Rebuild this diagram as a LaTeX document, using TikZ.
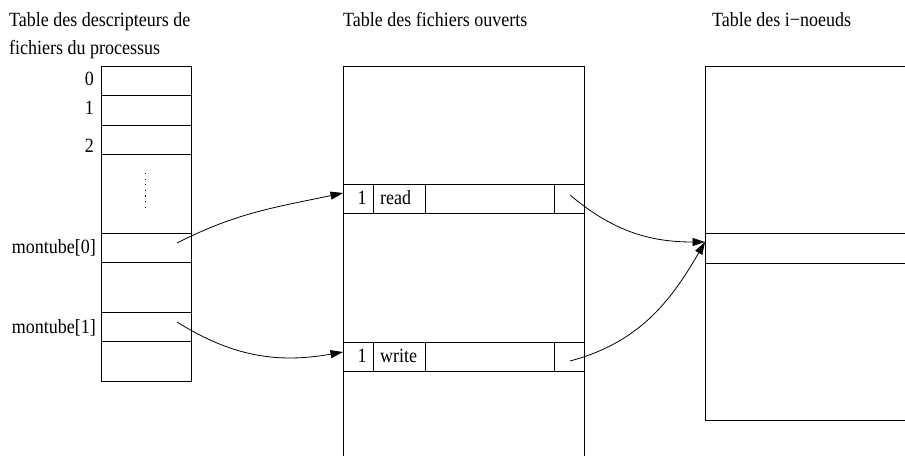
\documentclass[tikz,border=0pt]{standalone}
\usepackage{fontspec}
\setmainfont{Liberation Serif}
\usetikzlibrary{arrows.meta}
\newcommand\tallt[1]{\scalebox{1}[1.12]{#1}}
\begin{document}
\begin{tikzpicture}[x=1pt,y=-1pt,
  box/.style={line width=0.8pt},
  lbl/.style={inner sep=0pt,font=\fontsize{18}{22}\selectfont},
  link/.style={line width=0.8pt,-{Triangle[length=12.5pt,width=8pt]}}]
\useasboundingbox (0,0) rectangle (905,458);
% titles
\node[lbl,anchor=base west] (t1) at (9,26) {\tallt{Table des descripteurs de}};
\node[lbl,anchor=base west] (t1b) at (9,54) {\tallt{fichiers du processus}};
\node[lbl,anchor=base west] (t2) at (343,26) {\tallt{Table des fichiers ouverts}};
\node[lbl,anchor=base west] (t3) at (712,26) {\tallt{Table des i−noeuds}};
% left table
\draw[box] (101,66) rectangle (191,381);
\foreach \y in {95,125,154,233,262,312,341} \draw[box] (101,\y) -- (191,\y);
\draw[line width=1pt,dash pattern=on 1.2pt off 4.4pt] (145,173) -- (145,212);
\node[lbl,anchor=base east] (l0) at (94,85) {\tallt{0}};
\node[lbl,anchor=base east] (l1) at (94,114) {\tallt{1}};
\node[lbl,anchor=base east] (l2) at (94,152) {\tallt{2}};
\node[lbl,anchor=base east] (m0) at (96,253) {\tallt{montube[0]}};
\node[lbl,anchor=base east] (m1) at (96,333) {\tallt{montube[1]}};
% middle table
\draw[box] (343,456) -- (343,66) -- (584,66) -- (584,456);
\foreach \y in {184,213,342,371} \draw[box] (343,\y) -- (584,\y);
\foreach \x in {373,425,554} {
  \draw[box] (\x,184) -- (\x,213);
  \draw[box] (\x,342) -- (\x,371);
}
\node[lbl,anchor=base] (r1) at (362,204) {\tallt{1}};
\node[lbl,anchor=base west] (rd) at (380,204) {\tallt{read}};
\node[lbl,anchor=base] (w1) at (362,362) {\tallt{1}};
\node[lbl,anchor=base west] (wr) at (380,362) {\tallt{write}};
% right table
\draw[box] (905,66) -- (705,66) -- (705,420) -- (905,420);
\draw[box] (705,233) -- (905,233);
\draw[box] (705,263) -- (905,263);
% connector ends
\coordinate (s0) at (177,243);
\coordinate (s1) at (177,322);
\coordinate (eR) at (343,193);
\coordinate (eW) at (343,352);
\coordinate (sR) at (570,195);
\coordinate (sW) at (570,361);
\coordinate (eI) at (705,242);
% connectors
\draw[link] (s0) to[out=27,in=192] (eR);
\draw[link] (s1) to[out=-32,in=190] (eW);
\draw[link] (sR) to[out=-40,in=180] (eI);
\draw[link] (sW) to[out=15,in=240] (eI);
\end{tikzpicture}
\end{document}
